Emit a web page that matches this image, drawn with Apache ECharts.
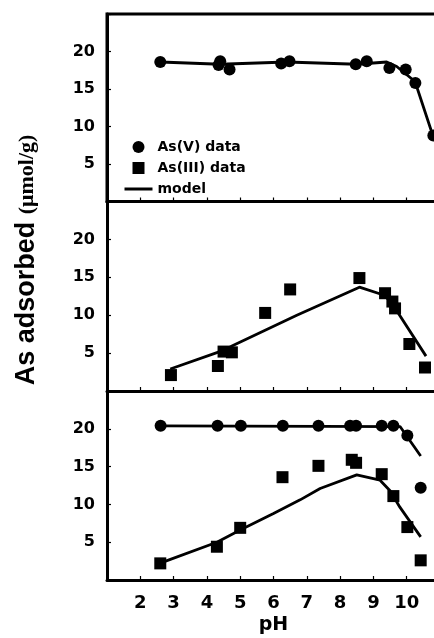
<!DOCTYPE html>
<html><head><meta charset="utf-8">
<script src="https://cdn.jsdelivr.net/npm/echarts@6/dist/echarts.min.js"></script>
<style>html,body{margin:0;padding:0;background:#fff}#c{width:434px;height:638px}</style>
</head><body><div id="c"></div>
<script>
// ---- data ----
const xTickLabels = [2, 3, 4, 5, 6, 7, 8, 9, 10];
const yTickLabels = [5, 10, 15, 20];

// Panel 1: As(V) alone
const p1AsV_pH  = [2.6, 4.4, 4.35, 4.68, 6.23, 6.48, 8.47, 8.8, 9.48, 9.97, 10.26, 10.8];
const p1AsV_val = [18.6, 18.7, 18.2, 17.6, 18.4, 18.7, 18.3, 18.7, 17.8, 17.6, 15.8, 8.8];
const p1Model_pH  = [2.6, 4.4, 6.4, 8.5, 9.4, 9.7, 10.25, 10.8];
const p1Model_val = [18.6, 18.3, 18.6, 18.3, 18.6, 18.0, 16.0, 8.6];

// Panel 2: As(III) alone
const p2AsIII_pH  = [2.92, 4.33, 4.5, 4.75, 5.75, 6.5, 8.58, 9.35, 9.57, 9.65, 10.08, 10.55];
const p2AsIII_val = [2.1, 3.3, 5.2, 5.1, 10.3, 13.4, 14.9, 12.9, 11.8, 10.9, 6.2, 3.1];
const p2Model_pH  = [2.9, 4.45, 6.7, 8.58, 9.35, 9.7, 10.58];
const p2Model_val = [2.9, 5.3, 10.0, 13.7, 12.6, 10.6, 4.6];

// Panel 3: both present
const p3AsV_pH  = [2.61, 4.32, 5.02, 6.28, 7.35, 8.3, 8.48, 9.25, 9.6, 10.02, 10.42];
const p3AsV_val = [20.4, 20.4, 20.4, 20.4, 20.4, 20.4, 20.4, 20.4, 20.4, 19.1, 12.2];
const p3ModelV_pH  = [2.61, 9.8, 10.42];
const p3ModelV_val = [20.4, 20.3, 16.4];
const p3AsIII_pH  = [2.6, 4.3, 5.0, 6.27, 7.35, 8.35, 8.48, 9.25, 9.6, 10.02, 10.42];
const p3AsIII_val = [2.2, 4.4, 6.9, 13.6, 15.1, 15.9, 15.5, 14.0, 11.1, 7.0, 2.6];
const p3ModelIII_pH  = [2.7, 4.3, 5.0, 6.0, 6.8, 7.4, 8.5, 9.2, 9.5, 9.8, 10.42];
const p3ModelIII_val = [2.4, 5.0, 6.6, 8.8, 10.6, 12.1, 13.9, 13.2, 11.8, 9.6, 5.7];

// ---- build ----
const pairs = (xs, ys) => xs.map((x, i) => [x, ys[i]]);
const FONT = 'DejaVu Sans';
const grids = [
  {left: 107, width: 333, top: 14, height: 187.5, show: true, borderColor: '#000', borderWidth: 3, outerBoundsMode: 'none', containLabel: false},
  {left: 107, width: 333, top: 201.5, height: 189.5, outerBoundsMode: 'none', containLabel: false},
  {left: 107, width: 333, top: 391, height: 189, outerBoundsMode: 'none', containLabel: false}
];
const xAxes = grids.map((g, i) => ({
  gridIndex: i, type: 'value', min: 1, max: 11, interval: 1,
  axisLine: {onZero: false, lineStyle: {color: '#000', width: 3}},
  axisTick: {inside: true, length: 4, lineStyle: {color: '#000', width: 1.2}},
  splitLine: {show: false},
  axisLabel: {
    show: i === 2, margin: 14, color: '#000', fontFamily: FONT, fontWeight: 'bold', fontSize: 18,
    formatter: v => xTickLabels.includes(v) ? String(v) : ''
  },
  name: i === 2 ? 'pH' : '', nameLocation: 'middle', nameGap: 36,
  nameTextStyle: {color: '#000', fontFamily: FONT, fontWeight: 'bold', fontSize: 19}
}));
const yAxes = grids.map((g, i) => ({
  gridIndex: i, type: 'value', min: 0, max: 25, interval: 5,
  axisLine: {show: true, onZero: false, lineStyle: {color: '#000', width: 3}},
  axisTick: {show: true, inside: true, length: 4, lineStyle: {color: '#000', width: 1.2}},
  splitLine: {show: false},
  axisLabel: {
    margin: 12, color: '#000', fontFamily: FONT, fontWeight: 'bold', fontSize: 16,
    formatter: v => yTickLabels.includes(v) ? String(v) : ''
  }
}));
const dot = (name, xi, data, sym) => ({
  name, type: 'scatter', xAxisIndex: xi, yAxisIndex: xi, data,
  symbol: sym, symbolSize: 12, itemStyle: {color: '#000', opacity: 1}, z: 3, silent: true
});
const line = (xi, data) => ({
  name: 'model', type: 'line', xAxisIndex: xi, yAxisIndex: xi, data,
  symbol: 'none', lineStyle: {color: '#000', width: 2.8}, itemStyle: {color: '#000'}, z: 2, silent: true
});
const option = {
  backgroundColor: '#fff',
  animation: false,
  grid: grids, xAxis: xAxes, yAxis: yAxes,
  legend: {
    orient: 'vertical', left: 118, top: 135, itemWidth: 28, itemHeight: 12, itemGap: 7,
    selectedMode: false,
    textStyle: {color: '#000', fontFamily: FONT, fontWeight: 'bold', fontSize: 14},
    data: [
      {name: 'As(V) data', icon: 'circle', itemStyle: {opacity: 1}},
      {name: 'As(III) data', icon: 'path://M0,0H10V10H0Z', itemStyle: {opacity: 1}},
      {name: 'model', itemStyle: {opacity: 0}, lineStyle: {width: 3, opacity: 1}}
    ]
  },
  graphic: [{
    type: 'text', x: 27, y: 260, rotation: Math.PI / 2,
    style: {
      text: '{a|As adsorbed }{b|(μmol/g)}', align: 'center', verticalAlign: 'middle',
      rich: {
        a: {font: 'bold 27px "Liberation Sans"', fontFamily: 'Liberation Sans', fontWeight: 'bold', fontSize: 27, fill: '#000'},
        b: {font: 'bold 22px "Liberation Serif"', fontFamily: 'Liberation Serif', fontWeight: 'bold', fontSize: 22, fill: '#000'}
      }
    }
  }],
  series: [
    dot('As(V) data', 0, pairs(p1AsV_pH, p1AsV_val), 'circle'),
    line(0, pairs(p1Model_pH, p1Model_val)),
    dot('As(III) data', 1, pairs(p2AsIII_pH, p2AsIII_val), 'rect'),
    line(1, pairs(p2Model_pH, p2Model_val)),
    dot('As(V) data', 2, pairs(p3AsV_pH, p3AsV_val), 'circle'),
    line(2, pairs(p3ModelV_pH, p3ModelV_val)),
    dot('As(III) data', 2, pairs(p3AsIII_pH, p3AsIII_val), 'rect'),
    line(2, pairs(p3ModelIII_pH, p3ModelIII_val))
  ]
};
const chart = echarts.init(document.getElementById('c'), null, {renderer: 'canvas'});
chart.setOption(option);
</script>
</body></html>
